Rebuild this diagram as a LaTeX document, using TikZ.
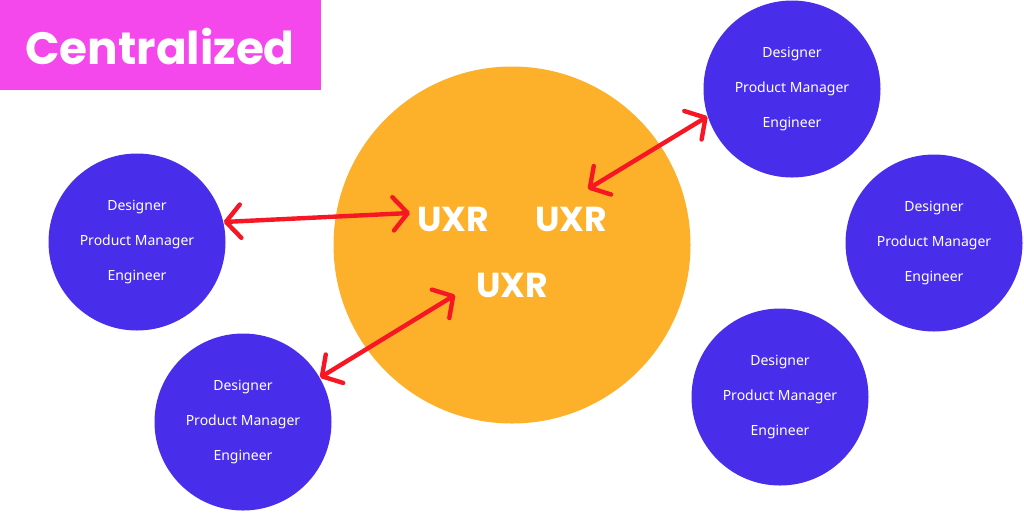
\documentclass[tikz,border=0pt]{standalone}
\usepackage{fontspec}
\setmainfont{Noto Sans}
\newfontfamily\popfont{Poppins}
\usetikzlibrary{arrows.meta}

\definecolor{tagmagenta}{RGB}{244,71,236}
\definecolor{hubOrange}{RGB}{253,177,43}
\definecolor{teamBlue}{RGB}{72,46,235}
\definecolor{linkRed}{RGB}{246,22,36}

\tikzset{every picture/.style={line width=0.75pt}}
\tikzset{
  team/.style={circle, fill=teamBlue, draw=none, minimum size=132.75pt, inner sep=0pt, text=white, align=center, font=\fontsize{10.5}{26.6}\selectfont},
  uxr/.style={text=white, inner sep=0pt, font=\popfont\bfseries\fontsize{26}{26}\selectfont},
  link/.style={color=linkRed, line width=3.3pt, line cap=round, {Straight Barb[length=11pt,width=25pt,line cap=round,line join=round]}-{Straight Barb[length=11pt,width=25pt,line cap=round,line join=round]}}
}

\begin{document}
\begin{tikzpicture}[x=0.75pt,y=0.75pt,yscale=-1,xscale=1]
\useasboundingbox (0,0) rectangle (1024,512);

%Shape: Rectangle [id:title]
\fill [tagmagenta] (0,0) rectangle (321,90);
% Text Node
\node (title) at (160,47) [text=white, inner sep=0pt, font=\popfont\bfseries\fontsize{34}{34}\selectfont] {Centralized};

%Shape: Circle [id:hub]
\node (hub) at (512,245) [circle, fill=hubOrange, minimum size=267.75pt, inner sep=0pt] {};

% Text Node
\node (uxrA) at (453,219) [uxr] {UXR};
% Text Node
\node (uxrB) at (571,219) [uxr] {UXR};
% Text Node
\node (uxrC) at (512,285) [uxr] {UXR};

%Shape: Circle [id:teams]
\node (left) at (137,242) [team] {Designer\\Product Manager\\Engineer};
\node (botleft) at (243,422) [team] {Designer\\Product Manager\\Engineer};
\node (topright) at (792,89) [team] {Designer\\Product Manager\\Engineer};
\node (right) at (934,243) [team] {Designer\\Product Manager\\Engineer};
\node (botright) at (780,397) [team] {Designer\\Product Manager\\Engineer};

% arrow ends inside the hub
\coordinate (endA) at (410,213);
\coordinate (endB) at (588,189);
\coordinate (endC) at (455,295);

%Straight Lines
\draw [link] (left.13) -- (endA);
\draw [link] (topright.198) -- (endB);
\draw [link] (botleft.30) -- (endC);

\end{tikzpicture}
\end{document}
